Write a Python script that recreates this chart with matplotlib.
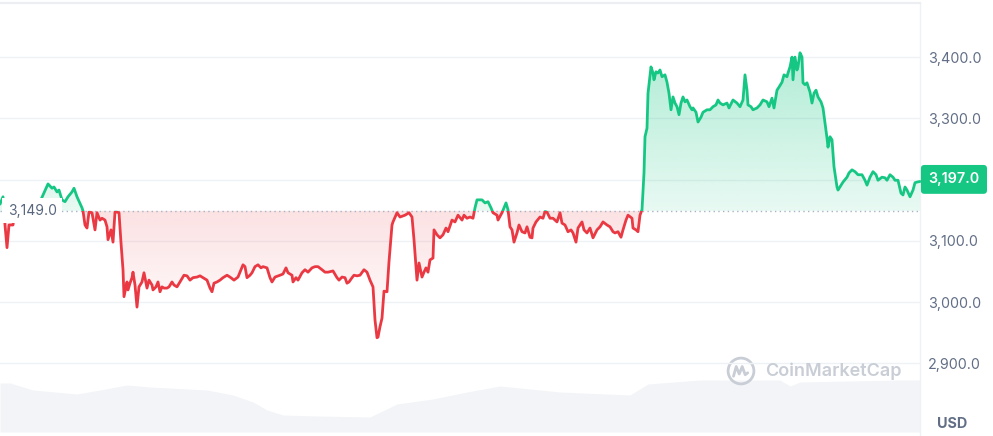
import numpy as np
import matplotlib
matplotlib.use("Agg")
import matplotlib.pyplot as plt
from matplotlib.patches import Rectangle, Circle
from matplotlib.path import Path
from matplotlib.colors import to_rgb

plt.rcParams['font.family'] = ['Inter', 'DejaVu Sans']

# ---------------- data ----------------
# time in minutes from the start of the window, price in USD
minutes = [0, 4.5, 7.5, 10.5, 13.5, 19.5, 21, 45, 60, 64.5, 72, 78, 81, 85.5, 88.5, 93, 97.5, 102, 108, 111, 115.5,
           123, 124.5, 127.5, 130.5, 133.5, 138, 142.5, 145.5, 150, 153, 157.5, 160.5, 162, 166.5, 169.5, 172.5,
           175.5, 178.5, 181.5, 184.5, 186, 190.5, 192, 195, 198, 199.5, 202.5, 205.5, 208.5, 213, 216, 220.5,
           223.5, 228, 229.5, 234, 237, 240, 243, 246, 250.5, 253.5, 258, 261, 265.5, 270, 276, 280.5, 285,
           289.5, 295.5, 300, 304.5, 310.5, 315, 318, 321, 325.5, 330, 334.5, 340.5, 345, 351, 357, 364.5,
           367.5, 370.5, 375, 378, 382.5, 387, 391.5, 394.5, 400.5, 405, 408, 412.5, 420, 424.5, 429, 432, 438,
           439.5, 444, 447, 453, 457.5, 462, 468, 472.5, 477, 483, 487.5, 492, 499.5, 505.5, 508.5, 513, 517.5,
           520.5, 523.5, 528, 531, 535.5, 540, 546, 550.5, 555, 559.5, 562.5, 565.5, 567, 570, 573, 576, 580.5,
           583.5, 588, 589.5, 595.5, 600, 607.5, 613.5, 618, 621, 624, 625.5, 628.5, 633, 636, 639, 642, 645,
           649.5, 651, 655.5, 660, 664.5, 669, 672, 678, 682.5, 687, 693, 696, 700.5, 705, 709.5, 712.5, 715.5,
           723, 727.5, 732, 736.5, 739.5, 745.5, 747, 753, 756, 759, 762, 765, 768, 771, 775.5, 778.5, 783,
           787.5, 790.5, 795, 798, 799.5, 804, 810, 814.5, 817.5, 820.5, 825, 829.5, 835.5, 840, 843, 847.5,
           852, 856.5, 859.5, 864, 867, 873, 876, 880.5, 885, 889.5, 895.5, 900, 904.5, 910.5, 915, 919.5,
           922.5, 927, 931.5, 934.5, 939, 942, 948, 949.5, 954, 957, 960, 963, 966, 967.5, 970.5, 972, 976.5,
           979.5, 981, 984, 987, 990, 993, 997.5, 1000.5, 1003.5, 1006.5, 1009.5, 1012.5, 1015.5, 1018.5,
           1021.5, 1024.5, 1027.5, 1030.5, 1035, 1038, 1039.5, 1044, 1047, 1051.5, 1054.5, 1060.5, 1065,
           1069.5, 1074, 1077, 1080, 1084.5, 1090.5, 1093.5, 1099.5, 1105.5, 1110, 1114.5, 1117.5, 1120.5,
           1122, 1126.5, 1129.5, 1135.5, 1140, 1144.5, 1150.5, 1153.5, 1158, 1161, 1165.5, 1168.5, 1173, 1176,
           1180.5, 1182, 1185, 1188, 1189.5, 1192.5, 1195.5, 1197, 1200, 1203, 1204.5, 1207.5, 1210.5, 1215,
           1218, 1221, 1224, 1227, 1231.5, 1234.5, 1237.5, 1240.5, 1242, 1245, 1248, 1251, 1255.5, 1257,
           1261.5, 1264.5, 1270.5, 1273.5, 1278, 1282.5, 1287, 1293, 1297.5, 1300.5, 1305, 1309.5, 1314, 1317,
           1323, 1327.5, 1330.5, 1335, 1339.5, 1342.5, 1347, 1351.5, 1354.5, 1357.5, 1360.5, 1365, 1369.5,
           1372.5, 1375.5, 1380]
prices = [3160, 3172, 3126, 3089, 3126, 3126, 3140, 3152, 3164, 3175, 3193, 3186, 3188, 3180, 3183, 3167, 3164, 3172,
          3180, 3186, 3172, 3154, 3149, 3126, 3121, 3147, 3146, 3118, 3146, 3134, 3137, 3134, 3123, 3102, 3118,
          3098, 3147, 3147, 3146, 3097, 3053, 3009, 3033, 3020, 3031, 3040, 3049, 3028, 2992, 3025, 3033, 3048,
          3023, 3036, 3028, 3020, 3025, 3033, 3017, 3025, 3023, 3023, 3025, 3033, 3028, 3025, 3033, 3044, 3043,
          3036, 3040, 3041, 3043, 3040, 3036, 3023, 3017, 3031, 3033, 3036, 3040, 3044, 3041, 3036, 3041, 3061,
          3058, 3040, 3044, 3048, 3058, 3061, 3056, 3058, 3056, 3040, 3033, 3041, 3044, 3046, 3056, 3048, 3044,
          3033, 3040, 3036, 3048, 3053, 3049, 3056, 3058, 3058, 3053, 3049, 3049, 3051, 3040, 3036, 3041, 3040,
          3031, 3033, 3040, 3044, 3043, 3044, 3053, 3049, 3036, 3025, 2971, 2942, 2943, 2960, 2974, 3018, 3017,
          3066, 3126, 3131, 3146, 3139, 3142, 3146, 3139, 3102, 3058, 3036, 3064, 3041, 3049, 3056, 3049, 3069,
          3072, 3118, 3110, 3105, 3110, 3121, 3115, 3134, 3131, 3142, 3134, 3142, 3137, 3139, 3137, 3154, 3167,
          3167, 3162, 3164, 3154, 3146, 3142, 3134, 3146, 3154, 3162, 3151, 3123, 3118, 3098, 3113, 3126, 3115,
          3113, 3123, 3106, 3105, 3121, 3131, 3139, 3137, 3148, 3147, 3137, 3137, 3131, 3146, 3129, 3126,
          3115, 3118, 3113, 3098, 3121, 3131, 3118, 3113, 3121, 3105, 3118, 3123, 3131, 3126, 3123, 3115,
          3113, 3115, 3106, 3118, 3134, 3142, 3137, 3121, 3118, 3115, 3142, 3151, 3211, 3270, 3284, 3341, 3384,
          3374, 3363, 3376, 3374, 3379, 3368, 3371, 3359, 3341, 3314, 3335, 3325, 3319, 3306, 3325, 3335, 3327,
          3330, 3319, 3314, 3317, 3310, 3294, 3302, 3310, 3314, 3314, 3319, 3322, 3330, 3325, 3322, 3325, 3317,
          3330, 3325, 3319, 3330, 3371, 3346, 3322, 3319, 3314, 3317, 3322, 3330, 3327, 3319, 3333, 3317, 3346,
          3351, 3359, 3371, 3368, 3374, 3384, 3400, 3363, 3400, 3379, 3384, 3407, 3400, 3358, 3355, 3358, 3343,
          3325, 3341, 3346, 3335, 3327, 3317, 3293, 3268, 3253, 3270, 3265, 3221, 3188, 3183, 3191, 3196, 3204,
          3211, 3216, 3213, 3208, 3208, 3199, 3191, 3204, 3213, 3208, 3199, 3204, 3203, 3199, 3208, 3204, 3199,
          3199, 3178, 3175, 3188, 3183, 3172, 3183, 3195, 3196, 3197]

open_price = 3149.0
last_price = 3197.0

vol_minutes = [0, 15, 49.5, 115.5, 150, 190.5, 225, 310.5, 349.5, 379.5, 400.5, 424.5, 475.5, 555, 595.5,
               649.5, 700.5, 750, 840, 945, 972, 1050, 1170, 1185, 1200, 1350, 1380]
volumes = [490, 490, 420, 380, 420, 470, 450, 420, 370, 300, 220, 170, 160, 150, 280, 330, 400, 460, 400,
           370, 480, 520, 520, 460, 500, 520, 520]   # millions USD

grid_vals = [2900, 3000, 3100, 3200, 3300, 3400]
label_vals = [2900, 3000, 3100, 3300, 3400]

# ---------------- style ----------------
GREEN = '#16c784'
RED = '#ea3943'
GRID = '#eff2f5'
LABEL = '#616e85'

W, H = 993, 436
fig = plt.figure(figsize=(W / 100, H / 100), dpi=100)
fig.patch.set_facecolor('white')

t = np.array(minutes, dtype=float)
p = np.array(prices, dtype=float)
xmax = t[-1]

# volume axes (behind)
axv = fig.add_axes([0, 4 / H, 920 / W, 100 / H])
axv.fill_between(vol_minutes, volumes, 0, color='#f2f4f7', lw=0)
axv.set_xlim(0, xmax)
axv.set_ylim(0, 1000)
axv.axis('off')
axv.set_zorder(0)

ax = fig.add_axes([0, 0, 920 / W, 433 / H])
ax.set_zorder(1)
ax.patch.set_alpha(0)
ymin, ymax = 2781.6, 3488.3

for g in grid_vals:
    ax.axhline(g, color=GRID, lw=1, zorder=0)

# gradient fills
def grad_fill(where, color, a_top, a_bot, y_top, y_bot):
    coll = ax.fill_between(t, p, open_price, where=where, interpolate=True,
                           facecolor='none', edgecolor='none')
    paths = coll.get_paths()
    cpath = Path.make_compound_path(*paths)
    n = 256
    img = np.zeros((n, 1, 4))
    img[..., :3] = to_rgb(color)
    img[..., 3] = np.linspace(a_top, a_bot, n)[:, None]
    im = ax.imshow(img, extent=[0, xmax, y_bot, y_top], aspect='auto', origin='upper',
                   zorder=1, interpolation='bilinear')
    im.set_clip_path(cpath, transform=ax.transData)

grad_fill(p >= open_price, GREEN, 0.34, 0.10, 3410, open_price)
grad_fill(p <= open_price, RED, 0.15, 0.0, open_price, 2940)

# baseline
ax.axhline(open_price, color='#a9b3c4', lw=1, linestyle=(0, (1, 2.4)), zorder=2)

# two-coloured price line
for col, rect in [(GREEN, Rectangle((-100, open_price), xmax + 200, 2000, transform=ax.transData)),
                  (RED, Rectangle((-100, open_price - 2000), xmax + 200, 2000, transform=ax.transData))]:
    ln, = ax.plot(t, p, color=col, lw=2.0, solid_joinstyle='round', solid_capstyle='round', zorder=3)
    ln.set_clip_path(rect)

ax.set_xlim(0, xmax)
ax.set_ylim(ymin, ymax)

for s in ['left', 'bottom']:
    ax.spines[s].set_visible(False)
ax.spines['top'].set_color('#eceef2')
ax.spines['top'].set_linewidth(1.6)
ax.spines['right'].set_color('#eff2f5')
ax.spines['right'].set_linewidth(1)

ax.set_xticks([])
ax.yaxis.tick_right()
ax.set_yticks(label_vals)
ax.set_yticklabels([f'{v:,.1f}' for v in label_vals])
ax.tick_params(axis='y', length=0, pad=6, labelsize=10.3, labelcolor=LABEL)

# open price label
ax.annotate(f'{open_price:,.1f}', xy=(0, open_price), xycoords=('axes fraction', 'data'),
            xytext=(5.5, 0), textcoords='offset points', ha='left', va='center',
            fontsize=10, color='#58667e',
            bbox=dict(boxstyle='square,pad=0.4', fc='white', ec='none'), zorder=6)

# current price tag
ax.annotate(f'{last_price:,.1f}', xy=(1, last_price), xycoords=('axes fraction', 'data'),
            xytext=(6, 1.5), textcoords='offset points', ha='left', va='center',
            fontsize=10.3, color='white', fontweight='semibold',
            bbox=dict(boxstyle='round,pad=0.52,rounding_size=0.25', fc=GREEN, ec='none'),
            annotation_clip=False, zorder=7)

# currency label
fig.text(952 / W, 1 - 424 / H, 'USD', ha='center', va='center', fontsize=10.3,
         fontweight='bold', color='#616e85')

# watermark
WM = '#c9ced6'
fig.text(765 / W, 1 - 371 / H, 'CoinMarketCap', ha='left', va='center', fontsize=13,
         fontweight='semibold', color=WM)
lax = fig.add_axes([726 / W, 1 - 386 / H, 30 / W, 30 / H])
lax.set_xlim(-1, 1)
lax.set_ylim(-1, 1)
lax.set_aspect('equal')
lax.axis('off')
lax.add_patch(Circle((0, 0), 0.86, fill=False, ec=WM, lw=2.0))
lax.plot([-0.5, -0.32, -0.12, 0.08, 0.28, 0.45], [-0.35, 0.3, -0.2, 0.3, -0.25, -0.12],
         color=WM, lw=2.0, solid_joinstyle='round', solid_capstyle='round')

fig.savefig('out.png', dpi=100, facecolor='white')
